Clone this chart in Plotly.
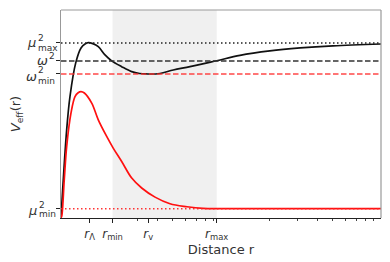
import plotly.graph_objects as go

# ---- data ----
r_black = [1.0, 1.085, 1.138, 1.236, 1.334, 1.42, 1.481, 1.58, 1.71, 1.884, 2.074, 2.395, 2.767, 3.1, 3.447,
           4.155, 5.03, 6.40, 9.4, 13.14, 20.2, 31.2, 50.1, 100.0]
v_black = [-0.054, 0.476, 0.677, 0.880, 0.970, 0.995, 1.002, 0.996, 0.978, 0.928, 0.892, 0.857, 0.827, 0.816, 0.813,
           0.816, 0.837, 0.857, 0.893, 0.925, 0.952, 0.970, 0.983, 0.994]

r_red = [1.0, 1.01, 1.048, 1.085, 1.155, 1.223, 1.28, 1.334, 1.40, 1.556, 1.71, 1.93, 2.12, 2.395, 2.767, 3.194,
         3.87, 4.80, 6.13, 7.72, 9.86, 100.0]
v_red = [-0.054, -0.046, 0.175, 0.375, 0.578, 0.677, 0.700, 0.707, 0.698, 0.637, 0.536, 0.436, 0.366, 0.285, 0.185,
         0.125, 0.070, 0.030, 0.012, 0.002, 0.0, 0.0]

mu2_max = 1.0
omega2 = 0.892
omega2_min = 0.813
mu2_min = 0.0

r_lambda, r_min, r_v, r_max = 1.51, 2.1, 3.51, 9.4
x_tick_vals = [r_lambda, r_min, r_v, r_max]
x_tick_text = ["<i>r</i><sub>Λ</sub>", "<i>r</i><sub>min</sub>", "<i>r</i><sub>v</sub>", "<i>r</i><sub>max</sub>"]
minor_vals = [3, 4, 5, 6, 7, 8, 9, 20, 30, 40, 50, 60, 70, 80, 90]

y_tick_vals = [mu2_min, omega2_min, omega2, mu2_max]

# ---- figure ----
OFF = 8                      # page body margin
L, R, T, B = 61 - OFF, 9, 10 - OFF, 44
W, H = 390 - OFF, 262 - OFF
pw = W - L - R
txt = "#333333"
FONT = "DejaVu Sans"

fig = go.Figure()

fig.add_trace(go.Scatter(x=r_black, y=v_black, mode="lines", line=dict(color="#111111", width=1.7, shape="spline"),
                         showlegend=False))
fig.add_trace(go.Scatter(x=r_red, y=v_red, mode="lines", line=dict(color="#ff1010", width=1.7, shape="spline"),
                         showlegend=False))

def px2paper(px):
    return (px - OFF - L) / pw

anns = []
def lab(main, sup, sub, y, xr, dy_main, dy_sup, dy_sub):
    anns.append(dict(x=px2paper(xr), xref="paper", y=y, yref="y", text="<i>%s</i>" % main, showarrow=False,
                     xanchor="right", yanchor="middle", yshift=dy_main, font=dict(size=13, color=txt, family=FONT),
                     borderpad=0))
    anns.append(dict(x=px2paper(xr - 0.5), xref="paper", y=y, yref="y", text=sup, showarrow=False,
                     xanchor="left", yanchor="middle", yshift=dy_sup, font=dict(size=9, color=txt, family=FONT),
                     borderpad=0))
    if sub:
        anns.append(dict(x=px2paper(xr - 0.5), xref="paper", y=y, yref="y", text=sub, showarrow=False,
                         xanchor="left", yanchor="middle", yshift=dy_sub, font=dict(size=9, color=txt, family=FONT),
                         borderpad=0))

lab("μ", "2", "max", mu2_max, 37, 0, 4.5, -5.5)
lab("ω", "2", None, omega2, 48.5, 0, 5, 0)
lab("ω", "2", "min", omega2_min, 37.5, -3, 3.5, -7)
lab("μ", "2", "min", mu2_min, 38, -1.5, 4, -5)

fig.update_layout(
    width=W, height=H,
    margin=dict(l=L, r=R, t=T, b=B),
    paper_bgcolor="white", plot_bgcolor="white",
    font=dict(family=FONT, color=txt),
    annotations=anns,
    xaxis=dict(type="log", range=[0, 2], showgrid=False, zeroline=False, automargin=False,
               tickmode="array", tickvals=x_tick_vals, ticktext=x_tick_text,
               ticks="outside", ticklen=4, tickwidth=1, tickcolor="#222",
               tickfont=dict(size=12, color=txt, family=FONT),
               minor=dict(tickmode="array", tickvals=minor_vals, ticks="outside", ticklen=2,
                          tickwidth=0.8, tickcolor="#444", showgrid=False),
               showline=True, linecolor="#222", linewidth=1.2, mirror=False,
               title=dict(text="Distance r", font=dict(size=13, color=txt, family=FONT), standoff=1)),
    yaxis=dict(range=[-0.056, 1.199], showgrid=False, zeroline=False, automargin=False,
               tickmode="array", tickvals=y_tick_vals, showticklabels=False,
               ticks="outside", ticklen=3.5, tickwidth=1, tickcolor="#222",
               showline=True, linecolor="#999", linewidth=1.2, mirror=False,
               title=dict(text="<i>V</i><sub>eff</sub>(r)", font=dict(size=13, color=txt, family=FONT), standoff=44)),
)
fig.add_shape(type="line", xref="paper", yref="paper", x0=0, x1=1, y0=1, y1=1, line=dict(color="#999", width=1.2))
fig.add_shape(type="line", xref="paper", yref="paper", x0=1, x1=1, y0=0, y1=1, line=dict(color="#999", width=1.2))
fig.add_vrect(x0=r_min, x1=r_max, fillcolor="#f0f0f0", line_width=0, layer="below")
fig.add_hline(y=mu2_max, line=dict(color="#222222", width=1.5, dash="1.5px,2.5px"))
fig.add_hline(y=omega2, line=dict(color="#333333", width=1.5, dash="5.5px,2.5px"))
fig.add_hline(y=omega2_min, line=dict(color="rgba(255,40,40,0.85)", width=1.5, dash="5.5px,2.5px"))
fig.add_hline(y=mu2_min, line=dict(color="rgba(255,30,30,0.9)", width=1.5, dash="1.5px,2.5px"))

fig.write_html("out.html")
